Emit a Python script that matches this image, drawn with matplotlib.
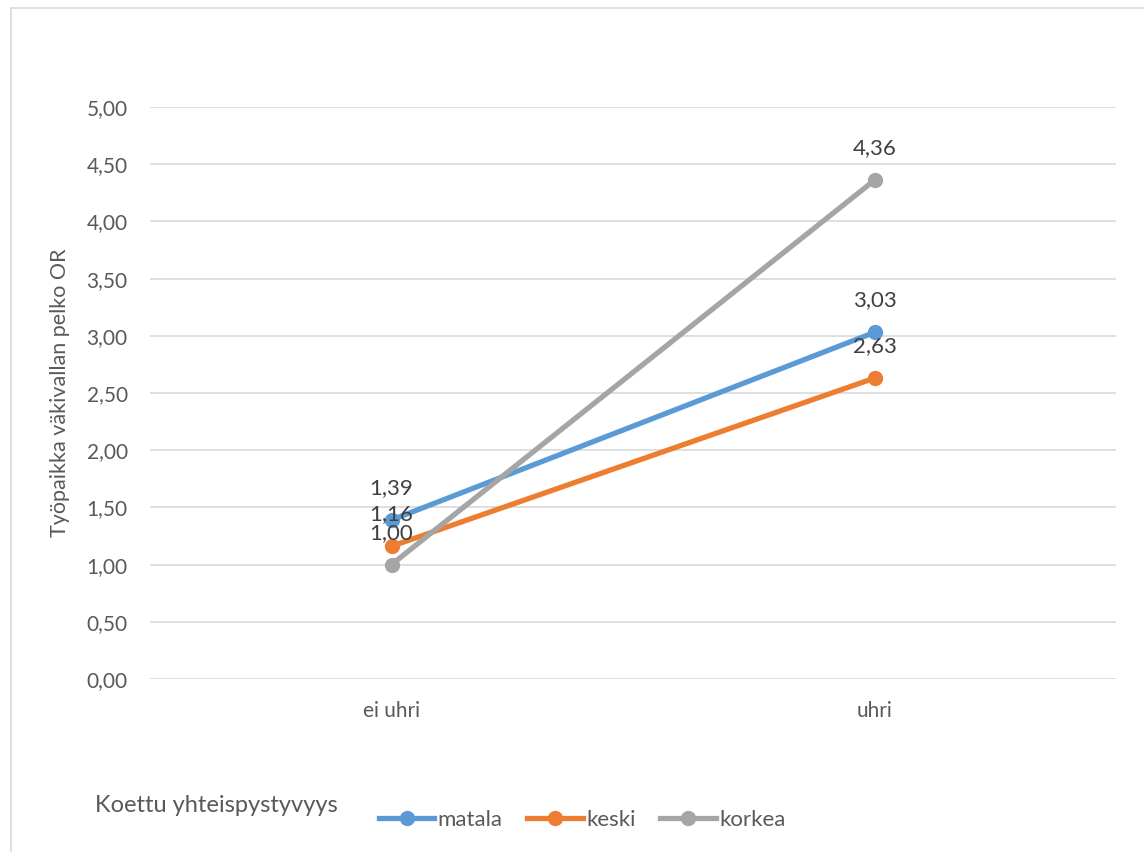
import matplotlib.pyplot as plt
from matplotlib.lines import Line2D
from matplotlib.patches import Rectangle

plt.rcParams['font.family'] = ['Lato', 'DejaVu Sans']

categories = ["ei uhri", "uhri"]
series_names = ["matala", "keski", "korkea"]
matala = [1.39, 3.03]
keski = [1.16, 2.63]
korkea = [1.00, 4.36]
colors = ["#5B9BD5", "#ED7D31", "#A5A5A5"]
yticks = [0.0, 0.5, 1.0, 1.5, 2.0, 2.5, 3.0, 3.5, 4.0, 4.5, 5.0]

TXT = "#595959"
GRID = "#D9D9D9"


def fi(v):
    return f"{v:.2f}".replace(".", ",")


fig = plt.figure(figsize=(11.44, 8.52), dpi=100)
# chart area border (runs off the right and bottom edge)
fig.patches.append(Rectangle((11 / 1144, -0.05), 1.2, 1 - 8 / 852 + 0.05,
                             transform=fig.transFigure, fill=False,
                             edgecolor=GRID, lw=1.2))

ax = fig.add_axes([150 / 1144, 1 - 679 / 852, 966 / 1144, 572 / 852])
x = [0, 1]
for name, vals, c in zip(series_names, (matala, keski, korkea), colors):
    ax.plot(x, vals, color=c, lw=3.8, marker="o", markersize=10,
            solid_capstyle="round", label=name, zorder=3)
    for xi, v in zip(x, vals):
        ax.annotate(fi(v), (xi, v), xytext=(0, 23), textcoords="offset points",
                    ha="center", va="center", fontsize=16, color="#404040",
                    zorder=4)

ax.set_xlim(-0.5, 1.5)
ax.set_ylim(0, 5)
ax.set_yticks(yticks)
ax.set_yticklabels([fi(v) for v in yticks])
ax.set_xticks(x)
ax.set_xticklabels(categories)
ax.grid(axis="y", color=GRID, lw=1.2)
ax.set_axisbelow(True)
for s in ax.spines.values():
    s.set_visible(False)
ax.tick_params(axis="both", length=0, labelsize=15, labelcolor=TXT)
ax.tick_params(axis="y", pad=16)
ax.tick_params(axis="x", pad=16)
ax.set_ylabel("Työpaikka väkivallan pelko OR", fontsize=15.5, color=TXT,
              labelpad=12)

fig.text(95 / 1144, 1 - 806 / 852, "Koettu yhteispystyvyys", fontsize=17,
         color=TXT, ha="left", va="center")
handles = [Line2D([], [], color=c, lw=3.8, marker="o", markersize=10)
           for c in colors]
fig.legend(handles, series_names, loc="center left",
           bbox_to_anchor=(370 / 1144, 1 - 820 / 852),
           bbox_transform=fig.transFigure, ncol=3, frameon=False,
           fontsize=16, labelcolor=TXT, handlelength=2.5,
           handletextpad=0.15, columnspacing=1.1, borderaxespad=0)

fig.savefig("out.png", dpi=100)
